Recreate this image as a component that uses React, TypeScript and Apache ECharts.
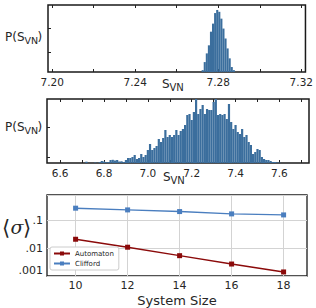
import React, { useEffect, useRef } from "react";
import * as echarts from "echarts";

// Panel 1: narrow histogram of S_vN
const hist1Start = 7.2725;
const hist1Width = 0.001;
const hist1Counts = [3, 16, 30, 43, 65, 78, 95, 100, 97, 86, 70, 54, 38, 22, 8, 3];
const hist1Labels = [7.2, 7.24, 7.28, 7.32];
const hist1MinorTicks = [7.2, 7.22, 7.24, 7.26, 7.28, 7.3, 7.32];

// Panel 2: broad histogram of S_vN
const hist2Start = 6.72;
const hist2Width = 0.01;
const hist2Counts = [
  1.3, 0, 0, 0, 0.5, 0, 0.8, 2, 1.5, 0.8, 1, 3, 3.2, 2.5, 3, 1.5, 1.7, 1,
  3, 5, 5, 6, 8, 4, 5, 9, 6, 8, 13, 19, 13, 15, 17, 24, 21, 25, 33, 26, 28,
  26,
  28, 33, 28, 32, 34, 38, 48, 49, 43, 51, 64, 49, 54, 58, 49, 54, 53, 53, 61, 64,
  48, 49, 48, 49, 44, 59, 41, 34, 38, 31, 29, 34, 26, 28, 21, 18, 9, 11, 14, 13,
  6, 4, 3, 3, 2, 1,
  1, 0.5, 0.5,
];
const hist2Labels = [6.6, 6.8, 7.0, 7.2, 7.4, 7.6];
const hist2MinorTicks = [6.6, 6.7, 6.8, 6.9, 7.0, 7.1, 7.2, 7.3, 7.4, 7.5, 7.6, 7.7];

// Panel 3: <sigma> vs system size
const systemSizes = [10, 12, 14, 16, 18];
const automaton = [0.0211, 0.0109, 0.0054, 0.0027, 0.0014];
const clifford = [0.278, 0.241, 0.21, 0.173, 0.159];

const BAR = "#3b6e9d";
const TXT = "#262626";
const FONT = "DejaVu Sans";

export default function App() {
  const ref = useRef<HTMLDivElement>(null);
  useEffect(() => {
    if (!ref.current) return;
    const chart = echarts.init(ref.current, null, { renderer: "svg" });
    const h1 = hist1Counts.map((c, i) => [hist1Start + i * hist1Width, c]);
    const h2 = hist2Counts.map((c, i) => [hist2Start + i * hist2Width, c]);
    const logLabel = (v: number) => {
      const e = Math.round(Math.log10(v));
      if (e === -1) return ".1";
      if (e === -2) return ".01";
      if (e === -3) return ".001";
      return "";
    };
    const histX = (idx: number, min: number, max: number, labels: number[], minor: number[], dec: number) => ({
      type: "value",
      gridIndex: idx,
      min,
      max,
      axisLine: { show: false },
      splitLine: { show: false },
      axisTick: { show: true, inside: true, length: 3, customValues: minor, lineStyle: { color: "#222" } },
      axisLabel: {
        customValues: labels,
        formatter: (v: number) => v.toFixed(dec),
        fontSize: 10.5,
        fontFamily: FONT,
        color: TXT,
        margin: 4,
      },
    });
    const histXTop = (idx: number, min: number, max: number, minor: number[]) => ({
      type: "value",
      gridIndex: idx,
      position: "top",
      min,
      max,
      axisLine: { show: false },
      splitLine: { show: false },
      axisTick: { show: true, inside: true, length: 3, customValues: minor, lineStyle: { color: "#222" } },
      axisLabel: { show: false },
    });
    const histY = (idx: number, max: number, ticks: number[]) => ({
      type: "value",
      gridIndex: idx,
      min: 0,
      max,
      axisLine: { show: false },
      splitLine: { show: false },
      axisTick: { show: true, inside: true, length: 3, customValues: ticks, lineStyle: { color: "#222" } },
      axisLabel: { show: false },
    });
    const graphic: any[] = [];
    // P(S_VN) labels
    const pLabel = (y: number) => {
      graphic.push({ type: "text", x: 5, y, style: { text: "P(S", font: `12px '${FONT}'`, fill: TXT, verticalAlign: "middle" } });
      graphic.push({ type: "text", x: 24.5, y: y + 3, style: { text: "VN", font: `9.5px '${FONT}'`, fill: TXT, verticalAlign: "middle" } });
      graphic.push({ type: "text", x: 37.5, y, style: { text: ")", font: `12px '${FONT}'`, fill: TXT, verticalAlign: "middle" } });
    };
    pLabel(37);
    pLabel(127);
    const sLabel = (x: number, y: number) => {
      graphic.push({ type: "text", x, y, style: { text: "S", font: `12px '${FONT}'`, fill: TXT, verticalAlign: "middle" } });
      graphic.push({ type: "text", x: x + 7.5, y: y + 3, style: { text: "VN", font: `10px '${FONT}'`, fill: TXT, verticalAlign: "middle" } });
    };
    sLabel(162, 84);
    sLabel(163, 177);
    // <sigma>
    graphic.push({ type: "text", x: 2, y: 228, style: { text: "⟨", font: `21px 'DejaVu Serif'`, fill: TXT, verticalAlign: "middle" } });
    graphic.push({ type: "text", x: 10.5, y: 227, style: { text: "σ", font: `italic 19px 'DejaVu Serif'`, fill: TXT, verticalAlign: "middle" } });
    graphic.push({ type: "text", x: 23, y: 228, style: { text: "⟩", font: `21px 'DejaVu Serif'`, fill: TXT, verticalAlign: "middle" } });

    const option: any = {
      animation: false,
      backgroundColor: "#fff",
      textStyle: { fontFamily: FONT },
      grid: [
        { left: 48, top: 5, width: 260, height: 67, show: true, borderColor: "#1a1a1a", borderWidth: 1.5, backgroundColor: "transparent" },
        { left: 47, top: 99, width: 262, height: 64, show: true, borderColor: "#1a1a1a", borderWidth: 1.5, backgroundColor: "transparent" },
        { left: 47, top: 195, width: 260, height: 81, show: true, borderColor: "#1a1a1a", borderWidth: 1.3, backgroundColor: "transparent" },
      ],
      xAxis: [
        histX(0, 7.198, 7.322, hist1Labels, hist1MinorTicks, 2),
        histX(1, 6.54, 7.735, hist2Labels, hist2MinorTicks, 1),
        {
          type: "value",
          gridIndex: 2,
          min: 8.9,
          max: 18.9,
          name: "System Size",
          nameLocation: "middle",
          nameGap: 18,
          nameTextStyle: { fontSize: 13, fontFamily: FONT, color: TXT },
          axisLine: { show: false },
          axisTick: { show: false, customValues: systemSizes },
          splitLine: { show: true, lineStyle: { color: "#d3d3d3", width: 1 } },
          axisLabel: { customValues: systemSizes, fontSize: 11, fontFamily: FONT, color: TXT, margin: 4 },
        },
        histXTop(0, 7.198, 7.322, hist1MinorTicks),
        histXTop(1, 6.54, 7.735, hist2MinorTicks),
      ],
      yAxis: [
        histY(0, 108, [32, 71]),
        histY(1, 64, [6, 36]),
        {
          type: "log",
          gridIndex: 2,
          min: 0.001,
          max: 0.83,
          logBase: 10,
          axisLine: { show: false },
          axisTick: { show: false },
          splitLine: { show: true, lineStyle: { color: "#d3d3d3", width: 1 } },
          axisLabel: {
            formatter: logLabel,
            fontSize: 11,
            fontFamily: FONT,
            color: TXT,
            margin: 4,
            verticalAlignMinLabel: "bottom",
          },
        },
      ],
      legend: {
        left: 50,
        top: 247,
        orient: "vertical",
        itemWidth: 16,
        itemHeight: 5,
        itemGap: 3,
        padding: [3, 5, 3, 3],
        backgroundColor: "#fff",
        borderColor: "#cccccc",
        borderWidth: 1,
        borderRadius: 2,
        textStyle: { fontSize: 7, fontFamily: FONT, color: TXT },
        data: ["Automaton", "Clifford"],
      },
      graphic,
      series: [
        {
          type: "bar",
          xAxisIndex: 0,
          yAxisIndex: 0,
          data: h1,
          barWidth: 2.1,
          itemStyle: { color: BAR },
        },
        {
          type: "bar",
          xAxisIndex: 1,
          yAxisIndex: 1,
          data: h2,
          barWidth: 2.2,
          itemStyle: { color: BAR },
        },
        {
          type: "line",
          name: "Automaton",
          xAxisIndex: 2,
          yAxisIndex: 2,
          data: systemSizes.map((s, i) => [s, automaton[i]]),
          symbol: "rect",
          symbolSize: 5,
          color: "#8b0a0a",
          lineStyle: { width: 1.4, color: "#8b0a0a" },
          itemStyle: { color: "#8b0a0a" },
        },
        {
          type: "line",
          name: "Clifford",
          xAxisIndex: 2,
          yAxisIndex: 2,
          data: systemSizes.map((s, i) => [s, clifford[i]]),
          symbol: "rect",
          symbolSize: 5,
          color: "#4a7ebf",
          lineStyle: { width: 1.4, color: "#4a7ebf" },
          itemStyle: { color: "#4a7ebf" },
        },
      ],
    };
    chart.setOption(option);
    return () => chart.dispose();
  }, []);
  return <div ref={ref} style={{ position: "fixed", left: 0, top: 0, width: 316, height: 308 }} />;
}
